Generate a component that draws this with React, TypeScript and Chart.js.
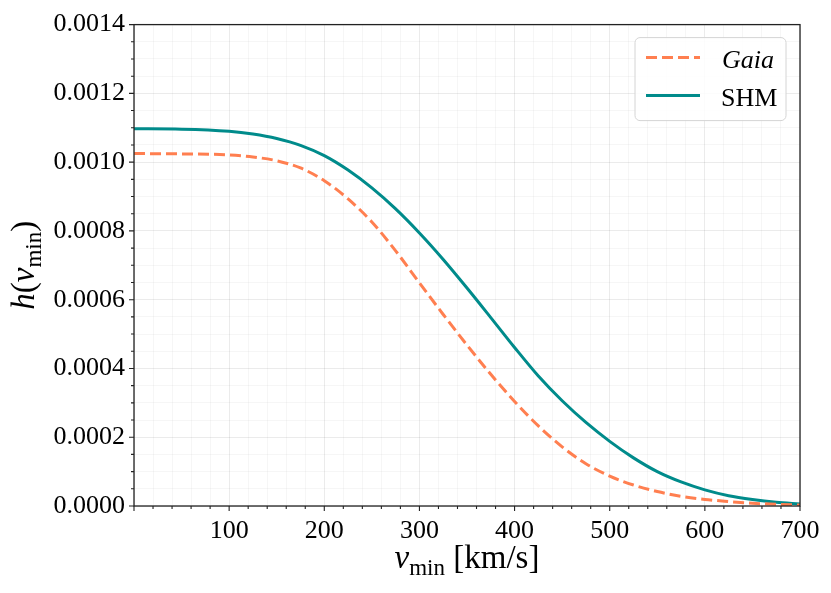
import { useEffect, useRef } from 'react';
import { Chart, registerables } from 'chart.js';

Chart.register(...registerables);

const SERIF = '"Liberation Serif", "DejaVu Serif", serif';

// v_min [km/s]
const V_MIN = [0, 50, 100, 125, 150, 175, 200, 225, 250, 275, 300, 325, 350, 375, 400, 425, 450, 475, 500, 525, 550, 575, 600, 625, 650, 675, 700];
// h(v_min) for Gaia
const GAIA = [0.001025, 0.001024, 0.001021, 0.001015, 0.001004, 0.000983, 0.000946, 0.000893, 0.000826, 0.000742, 0.000649, 0.000557, 0.000468, 0.000383, 0.000304, 0.000233, 0.000172, 0.000123, 0.000087, 0.000061, 0.000042, 0.000028, 0.000019, 0.000013, 0.000008, 0.000005, 0.000003];
// h(v_min) for SHM
const SHM = [0.001097, 0.001096, 0.00109, 0.001082, 0.001069, 0.001049, 0.001019, 0.000977, 0.000925, 0.000864, 0.000794, 0.000717, 0.000634, 0.000548, 0.000461, 0.000378, 0.000306, 0.000243, 0.000188, 0.00014, 0.0001, 0.00007, 0.000047, 0.00003, 0.000019, 0.000011, 0.000006];

const X_MIN = 0;
const X_MAX = 700;
const X_MAJOR = 100;
const X_MINOR = 20;
const Y_MIN = 0;
const Y_MAX = 0.0014;
const Y_MAJOR = 0.0002;
const Y_MINOR = 0.00005;

const COLOR_GAIA = '#FF7F50';
const COLOR_SHM = '#008B8B';

type Part = { text: string; font: string; dy?: number };

function drawRich(ctx: CanvasRenderingContext2D, parts: Part[], cx: number, baseline: number) {
  let total = 0;
  const widths: number[] = [];
  for (const p of parts) {
    ctx.font = p.font;
    const w = ctx.measureText(p.text).width;
    widths.push(w);
    total += w;
  }
  let x = cx - total / 2;
  ctx.textAlign = 'left';
  ctx.textBaseline = 'alphabetic';
  parts.forEach((p, i) => {
    ctx.font = p.font;
    ctx.fillText(p.text, x, baseline + (p.dy || 0));
    x += widths[i];
  });
}

const decorPlugin = {
  id: 'decor',
  afterDraw(chart: any) {
    const ctx: CanvasRenderingContext2D = chart.ctx;
    const { left, right, top, bottom } = chart.chartArea;
    const xs = chart.scales.x;
    const ys = chart.scales.y;
    ctx.save();
    // frame
    ctx.strokeStyle = '#222';
    ctx.lineWidth = 1.3;
    ctx.setLineDash([]);
    ctx.strokeRect(left, top, right - left, bottom - top);

    // tick marks
    ctx.lineWidth = 1.1;
    ctx.beginPath();
    const nx = Math.round((X_MAX - X_MIN) / X_MINOR);
    for (let i = 0; i <= nx; i++) {
      const v = X_MIN + i * X_MINOR;
      const px = xs.getPixelForValue(v);
      const major = Math.round(v / X_MINOR) % Math.round(X_MAJOR / X_MINOR) === 0;
      const len = major ? 5 : 3;
      ctx.moveTo(px, bottom);
      ctx.lineTo(px, bottom + len);
    }
    const ny = Math.round((Y_MAX - Y_MIN) / Y_MINOR);
    for (let i = 0; i <= ny; i++) {
      const v = Y_MIN + i * Y_MINOR;
      const py = ys.getPixelForValue(v);
      const major = i % Math.round(Y_MAJOR / Y_MINOR) === 0;
      const len = major ? 5 : 3;
      ctx.moveTo(left, py);
      ctx.lineTo(left - len, py);
    }
    ctx.stroke();

    // legend
    const bx = right - 165;
    const by = top + 13;
    const bw = 151;
    const bh = 83;
    ctx.beginPath();
    (ctx as any).roundRect(bx, by, bw, bh, 5);
    ctx.fillStyle = 'rgba(255,255,255,0.85)';
    ctx.fill();
    ctx.strokeStyle = '#d4d4d4';
    ctx.lineWidth = 1;
    ctx.stroke();

    ctx.lineWidth = 3;
    ctx.strokeStyle = COLOR_GAIA;
    ctx.setLineDash([11, 5]);
    ctx.beginPath();
    ctx.moveTo(bx + 11, by + 20);
    ctx.lineTo(bx + 65, by + 20);
    ctx.stroke();
    ctx.setLineDash([]);
    ctx.strokeStyle = COLOR_SHM;
    ctx.beginPath();
    ctx.moveTo(bx + 11, by + 58);
    ctx.lineTo(bx + 65, by + 58);
    ctx.stroke();

    ctx.fillStyle = '#000';
    ctx.textAlign = 'left';
    ctx.textBaseline = 'alphabetic';
    ctx.font = `italic 26px ${SERIF}`;
    ctx.fillText('Gaia', bx + 87, by + 30);
    ctx.font = `26px ${SERIF}`;
    ctx.fillText('SHM', bx + 86, by + 68);

    // axis titles
    ctx.fillStyle = '#000';
    drawRich(
      ctx,
      [
        { text: 'v', font: `italic 33px ${SERIF}` },
        { text: 'min', font: `23px ${SERIF}`, dy: 7 },
        { text: ' [km/s]', font: `33px ${SERIF}` },
      ],
      (left + right) / 2,
      bottom + 62
    );
    ctx.save();
    ctx.translate(34, (top + bottom) / 2);
    ctx.rotate(-Math.PI / 2);
    drawRich(
      ctx,
      [
        { text: 'h', font: `italic 33px ${SERIF}` },
        { text: '(', font: `33px ${SERIF}` },
        { text: 'v', font: `italic 33px ${SERIF}` },
        { text: 'min', font: `23px ${SERIF}`, dy: 7 },
        { text: ')', font: `33px ${SERIF}` },
      ],
      0,
      0
    );
    ctx.restore();
    ctx.restore();
  },
};

export default function App() {
  const ref = useRef<HTMLCanvasElement | null>(null);

  useEffect(() => {
    document.body.style.margin = '0';
    const canvas = ref.current;
    if (!canvas) return;
    const chart = new Chart(canvas, {
      type: 'line',
      data: {
        datasets: [
          {
            label: 'Gaia',
            data: V_MIN.map((v, i) => ({ x: v, y: GAIA[i] })),
            borderColor: COLOR_GAIA,
            borderWidth: 3,
            borderDash: [11, 5],
            pointRadius: 0,
            cubicInterpolationMode: 'monotone',
            fill: false,
          },
          {
            label: 'SHM',
            data: V_MIN.map((v, i) => ({ x: v, y: SHM[i] })),
            borderColor: COLOR_SHM,
            borderWidth: 3,
            pointRadius: 0,
            cubicInterpolationMode: 'monotone',
            fill: false,
          },
        ],
      },
      options: {
        animation: false,
        responsive: false,
        maintainAspectRatio: false,
        layout: { padding: { left: 0, top: 21, right: 31, bottom: 0 } },
        plugins: {
          legend: { display: false },
          tooltip: { enabled: false },
        },
        scales: {
          x: {
            type: 'linear',
            min: X_MIN,
            max: X_MAX,
            afterFit: (s: any) => {
              s.height = 87;
            },
            border: { display: false },
            grid: {
              drawTicks: false,
              lineWidth: 1,
              color: (c: any) => {
                const v = c.tick ? c.tick.value : 0;
                return Math.round(v) % X_MAJOR === 0 ? 'rgba(0,0,0,0.08)' : 'rgba(0,0,0,0.035)';
              },
            },
            ticks: {
              stepSize: X_MINOR,
              autoSkip: false,
              maxRotation: 0,
              padding: 10,
              color: '#000',
              font: { family: SERIF, size: 26 },
              callback: (v: any) => {
                const n = Math.round(Number(v));
                return n % X_MAJOR === 0 && n !== 0 ? String(n) : '';
              },
            },
          },
          y: {
            type: 'linear',
            min: Y_MIN,
            max: Y_MAX,
            afterFit: (s: any) => {
              s.width = 134;
            },
            border: { display: false },
            grid: {
              drawTicks: false,
              lineWidth: 1,
              color: (c: any) => {
                const v = c.tick ? c.tick.value : 0;
                return Math.round(v / Y_MINOR) % 4 === 0 ? 'rgba(0,0,0,0.08)' : 'rgba(0,0,0,0.035)';
              },
            },
            ticks: {
              stepSize: Y_MINOR,
              autoSkip: false,
              padding: 9,
              color: '#000',
              font: { family: SERIF, size: 26 },
              callback: (v: any) => {
                const n = Math.round(Number(v) / Y_MINOR);
                return n % 4 === 0 ? (n * Y_MINOR).toFixed(4) : '';
              },
            },
          },
        },
      },
      plugins: [decorPlugin],
    } as any);
    return () => chart.destroy();
  }, []);

  return (
    <div style={{ width: 831, height: 593 }}>
      <canvas ref={ref} width={831} height={593} style={{ display: 'block', width: 831, height: 593 }} />
    </div>
  );
}
